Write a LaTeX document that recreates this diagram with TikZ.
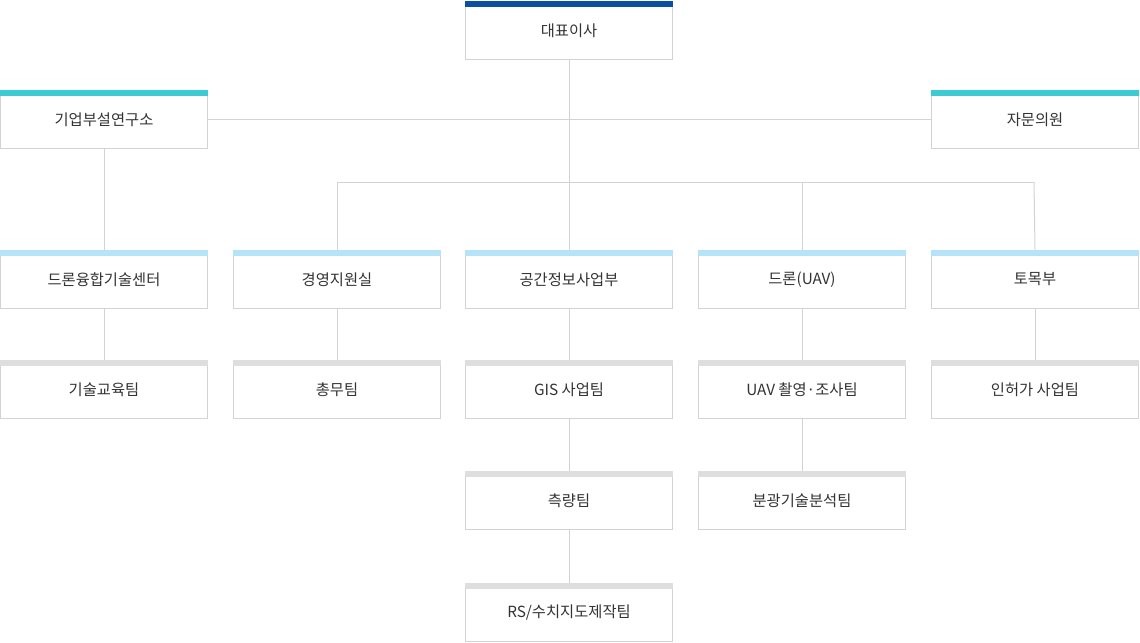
\documentclass[tikz,border=0pt]{standalone}
\usepackage{fontspec}
\newfontfamily\kr{Noto Sans CJK KR}
\definecolor{cDark}{HTML}{0A4FA0}
\definecolor{cTeal}{HTML}{3CCBD2}
\definecolor{cLight}{HTML}{B5E3F7}
\definecolor{cGray}{HTML}{DEDEDE}
\definecolor{cBorder}{HTML}{D3D3D3}
\definecolor{cLine}{HTML}{D3D3D3}
\definecolor{cText}{HTML}{333333}
\newcommand{\orgbox}[5]{% name, left x, top y, color, text
  \node[orgnode] (#1) at (#2+104,#3+29.5) {#5};
  \fill[#4] (#2,#3) rectangle (#2+208,#3+6);
}
\begin{document}
\begin{tikzpicture}[x=0.75pt,y=-0.75pt,
  orgnode/.style={draw=cBorder,fill=white,line width=0.75pt,minimum width=207.5*0.75pt,minimum height=58.5*0.75pt,inner sep=0pt,text=cText,font=\kr\fontsize{11.5pt}{13pt}\selectfont},
  conn/.style={draw=cLine,line width=0.75pt}]
\useasboundingbox (0,0) rectangle (1140,643);
\orgbox{ceo}{465}{1}{cDark}{대표이사}
\orgbox{lab}{0}{90}{cTeal}{기업부설연구소}
\orgbox{adv}{931}{90}{cTeal}{자문의원}
\orgbox{a2}{0}{250}{cLight}{드론융합기술센터}
\orgbox{b2}{233}{250}{cLight}{경영지원실}
\orgbox{c2}{465}{250}{cLight}{공간정보사업부}
\orgbox{d2}{698}{250}{cLight}{드론(UAV)}
\orgbox{e2}{931}{250}{cLight}{토목부}
\orgbox{a3}{0}{360}{cGray}{기술교육팀}
\orgbox{b3}{233}{360}{cGray}{총무팀}
\orgbox{c3}{465}{360}{cGray}{GIS 사업팀}
\orgbox{d3}{698}{360}{cGray}{UAV 촬영·조사팀}
\orgbox{e3}{931}{360}{cGray}{인허가 사업팀}
\orgbox{c4}{465}{471}{cGray}{측량팀}
\orgbox{d4}{698}{471}{cGray}{분광기술분석팀}
\orgbox{c5}{465}{583}{cGray}{RS/수치지도제작팀}
\coordinate (j) at (569,182);
\coordinate (jl) at (337,182);
\coordinate (jr) at (1034,182);
\coordinate (jd) at (802,182);
\draw[conn] (ceo.south) -- (c2.north);
\draw[conn] (lab.east) -- (adv.west);
\draw[conn] (jl) -- (jr);
\draw[conn] (jl) -- (b2.north);
\draw[conn] (jd) -- (d2.north);
\draw[conn] (jr) -- (e2.north);
\draw[conn] (lab.south) -- (a2.north);
\draw[conn] (a2.south) -- (a3.north);
\draw[conn] (b2.south) -- (b3.north);
\draw[conn] (c2.south) -- (c3.north);
\draw[conn] (d2.south) -- (d3.north);
\draw[conn] (e2.south) -- (e3.north);
\draw[conn] (c3.south) -- (c4.north);
\draw[conn] (c4.south) -- (c5.north);
\draw[conn] (d3.south) -- (d4.north);
\end{tikzpicture}
\end{document}
